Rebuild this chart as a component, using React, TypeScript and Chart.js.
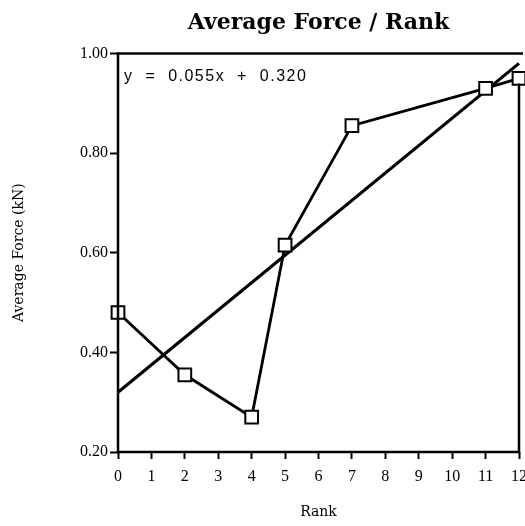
import React, { useEffect, useRef } from "react";
import { Chart, registerables } from "chart.js";

Chart.register(...registerables);

const rankValues = [0, 2, 4, 5, 7, 11, 12];
const forceValues = [0.48, 0.355, 0.27, 0.615, 0.855, 0.93, 0.95];
const fitRank = [0, 12];
const fitForce = [0.32, 0.98];
const equationText = "y  =  0.055x  +  0.320";
const yTickValues = [0.2, 0.4, 0.6, 0.8, 1.0];

const SERIF = "'Liberation Serif', 'DejaVu Serif', serif";
const WIDE_SERIF = "'DejaVu Serif', 'Liberation Serif', serif";
const SANS = "'Liberation Sans', Arial, sans-serif";

export default function App() {
  const ref = useRef<HTMLCanvasElement | null>(null);
  useEffect(() => {
    document.body.style.margin = "0";
    const canvas = ref.current;
    if (!canvas) return;

    const framePlugin = {
      id: "frame",
      afterDatasetsDraw(chart: any) {
        const { ctx, chartArea } = chart;
        const { left, right, top, bottom } = chartArea;
        ctx.save();
        ctx.strokeStyle = "#000";
        ctx.lineWidth = 2.5;
        ctx.beginPath();
        ctx.moveTo(left, bottom);
        ctx.lineTo(left, top);
        ctx.lineTo(right + 4, top);
        ctx.moveTo(left, bottom);
        ctx.lineTo(right, bottom);
        ctx.lineTo(right, top + 30);
        ctx.stroke();
        ctx.fillStyle = "#000";
        ctx.font = `16px ${SANS}`;
        (ctx as any).letterSpacing = "1.5px";
        ctx.textBaseline = "middle";
        ctx.textAlign = "left";
        ctx.fillText(equationText, left + 6, top + 23);
        ctx.restore();
      },
    };

    const chart = new Chart(canvas, {
      type: "scatter",
      data: {
        datasets: [
          {
            label: "Average Force",
            data: rankValues.map((x, i) => ({ x, y: forceValues[i] })),
            showLine: true,
            borderColor: "#000",
            borderWidth: 2.8,
            pointStyle: "rect",
            pointRadius: 9,
            pointBackgroundColor: "#fff",
            pointBorderColor: "#000",
            pointBorderWidth: 2,
            clip: false as any,
            order: 1,
          },
          {
            label: "Fit",
            data: fitRank.map((x, i) => ({ x, y: fitForce[i] })),
            showLine: true,
            borderColor: "#000",
            borderWidth: 3.2,
            pointRadius: 0,
            clip: false as any,
            order: 2,
          },
        ],
      },
      options: {
        responsive: false,
        animation: false,
        layout: { padding: { right: 0 }, autoPadding: false },
        plugins: {
          legend: { display: false },
          tooltip: { enabled: false },
          title: {
            display: true,
            text: "Average Force / Rank",
            fullSize: false,
            color: "#000",
            font: { family: WIDE_SERIF, size: 22, weight: "bold" },
            padding: { top: 10, bottom: 17 },
          },
        },
        scales: {
          x: {
            type: "linear",
            min: 0,
            max: 12,
            border: { display: false },
            grid: {
              drawOnChartArea: false,
              drawTicks: true,
              tickLength: 7,
              tickWidth: 2,
              tickColor: "#000",
            },
            ticks: {
              stepSize: 1,
              color: "#000",
              font: { family: SERIF, size: 16 },
              padding: 8,
            },
            title: {
              display: true,
              text: "Rank",
              color: "#000",
              font: { family: WIDE_SERIF, size: 14 },
              padding: { top: 0, bottom: 5 },
            },
            afterFit(scale: any) {
              scale.height = 74;
              scale.paddingRight = 6;
              scale.paddingLeft = 0;
            },
          },
          y: {
            type: "linear",
            min: 0.2,
            max: 1.0,
            border: { display: false },
            grid: {
              drawOnChartArea: false,
              drawTicks: true,
              tickLength: 8,
              tickWidth: 2,
              tickColor: "#000",
            },
            afterBuildTicks(scale: any) {
              scale.ticks = yTickValues.map((v) => ({ value: v }));
            },
            ticks: {
              color: "#000",
              font: { family: SERIF, size: 16 },
              padding: 2,
              callback: (v: any) => Number(v).toFixed(2),
            },
            title: {
              display: true,
              text: "Average Force (kN)",
              color: "#000",
              font: { family: WIDE_SERIF, size: 14 },
              padding: { top: 11, bottom: 0 },
            },
            afterFit(scale: any) {
              scale.width = 118;
            },
          },
        },
      },
      plugins: [framePlugin],
    } as any);
    return () => chart.destroy();
  }, []);
  return <canvas ref={ref} width={525} height={526} style={{ display: "block" }} />;
}
